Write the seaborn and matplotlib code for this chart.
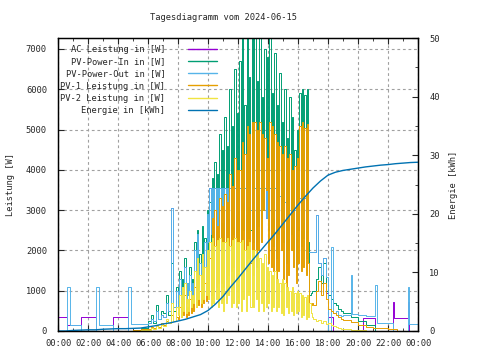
import numpy as np
import pandas as pd
import matplotlib
matplotlib.use('Agg')
import matplotlib.pyplot as plt
import seaborn as sns
from matplotlib.ticker import MultipleLocator

# Tagesdaten 2024-06-15 (Zeit in Stunden)
# Morgens 06:00-08:00 und abends 17:00-19:00: 10-Minuten-Werte
# Kernzeit 08:00-17:00: 5-Minuten-Werte
morning_t = 6 + np.arange(12) / 6
core_t = 8 + np.arange(108) / 12
late_t = 17 + np.arange(12) / 6

# PV-Power-In [W]
pv_in_night_t = [0, 5.0, 5.5]
pv_in_night_v = [0, 30, 80]
pv_in_morning_v = [
    250, 400, 200, 650, 300, 500,
    450, 900, 400, 1700, 500, 1100,
]
pv_in_core_v = [
    600, 1500, 700, 1300, 800, 1800, 700, 1200, 900, 1600, 800, 1300,
    1000, 2200, 900, 2500, 1100, 1900, 1000, 2600, 1200, 2300, 1300, 3000,
    1300, 3200, 1500, 3800, 1600, 4200, 1800, 3900, 2000, 4900, 1900, 4500,
    2000, 5300, 1800, 4600, 2200, 6000, 2000, 5100, 2400, 6500, 1900, 5400,
    2200, 6700, 2100, 7400, 2500, 5600, 1500, 7400, 2300, 6300, 2500, 7400,
    2200, 7400, 1600, 6200, 2600, 7400, 2800, 5800, 3000, 7000, 4000, 6800,
    2500, 7400, 2300, 5900, 2100, 6900, 1800, 5600, 2400, 6400, 2600, 5200,
    2200, 6000, 1700, 4800, 2000, 5800, 2400, 5300, 2000, 4500, 1500, 5000,
    2500, 5900, 2100, 6000, 2300, 5850, 1800, 6000, 2200, 900, 950, 1000,
]
pv_in_late_v = [
    1000, 1300, 1600, 1200, 1700, 1000,
    900, 800, 700, 650, 550, 500,
]
pv_in_eve_t = [19, 19.5, 20, 20.5, 21.1, 24]
pv_in_eve_v = [450, 350, 250, 150, 0, 0]

# PV-Power-Out [W]
pv_out_night_t = [0, 0.6, 0.8, 1.55, 2.53, 2.73, 3.67, 4.67, 4.87]
pv_out_night_v = [0, 1100, 150, 0, 1100, 150, 0, 1100, 170]
pv_out_morning_v = [
    200, 300, 250, 500, 300, 400,
    350, 700, 500, 3050, 600, 1000,
]
pv_out_core_v = [
    600, 1300, 700, 1100, 800, 1600, 700, 1200, 900, 1400, 800, 1200,
    900, 2000, 1000, 2400, 1100, 1700, 1000, 1900, 1300, 2200, 1400, 2900,
    2200, 3550, 2400, 3550, 2600, 3550, 2500, 3550, 2400, 3550, 2700, 3550,
    2700, 3550, 3000, 3550, 2800, 3550, 3000, 3550, 2600, 3550, 2900, 3550,
    3000, 3550, 2800, 3550, 3200, 3550, 2900, 3550, 3100, 3550, 3000, 3550,
    2900, 3550, 3100, 3550, 3400, 3550, 3000, 3550, 3300, 3550, 2800, 3550,
    2600, 3550, 2400, 3550, 2800, 3550, 2500, 3300, 2800, 3350, 2600, 3200,
    2500, 3200, 2700, 3100, 2300, 3000, 2600, 3100, 2400, 3000, 2300, 3200,
    2600, 3300, 2500, 3400, 2700, 3300, 2500, 3300, 1960, 1960, 1960, 1960,
]
pv_out_late_v = [
    1960, 2880, 1700, 1400, 1800, 1350,
    0, 2080, 450, 500, 400, 380,
]
pv_out_eve_t = [19, 19.5, 19.6, 20.0, 20.5, 21.1, 21.25, 22.3, 23.3, 23.4, 24]
pv_out_eve_v = [400, 1390, 420, 400, 380, 1140, 200, 0, 1100, 170, 170]

# AC Leistung [W] (tagsueber praktisch gleich PV-Power-Out)
ac_night_t = [0, 0.6, 1.5, 2.55, 3.67, 4.67]
ac_night_v = [350, 160, 350, 0, 350, 0]
ac_morning_v = pv_out_morning_v
ac_core_v = pv_out_core_v
ac_late_v = [
    1960, 2880, 1700, 1400, 1800, 940,
    350, 350, 0, 0, 0, 0,
]
ac_eve_t = [19, 20.3, 21.1, 22.3, 22.37, 23.3, 23.37, 24]
ac_eve_v = [0, 330, 0, 720, 330, 720, 0, 0]

# PV-1 Leistung [W]
pv1_night_t = [0, 5.0, 5.5]
pv1_night_v = [0, 20, 40]
pv1_morning_v = [
    50, 100, 80, 150, 100, 200,
    150, 250, 200, 400, 250, 350,
]
pv1_core_v = [
    300, 600, 350, 500, 400, 900, 350, 600, 400, 800, 450, 700,
    500, 1100, 600, 1300, 650, 1000, 600, 1400, 700, 1200, 750, 1600,
    800, 1800, 900, 2800, 1000, 3000, 1100, 2600, 1200, 3300, 1200, 3100,
    1100, 3400, 1300, 3200, 1400, 3900, 1500, 3600, 1600, 4300, 1300, 4000,
    1500, 4000, 1600, 4700, 1300, 4400, 1500, 5100, 1800, 4900, 1700, 5200,
    1400, 5200, 1900, 5000, 2000, 5200, 2200, 4900, 3000, 4800, 3500, 4300,
    1700, 5200, 1600, 5100, 1500, 4900, 1200, 4700, 1500, 4600, 2000, 4400,
    1300, 4600, 1100, 4300, 1400, 4400, 2000, 4000, 1600, 4100, 1200, 4300,
    1700, 5100, 1500, 5200, 1600, 5050, 1400, 5150, 1700, 700, 650, 700,
]
pv1_late_v = [
    650, 1000, 1250, 900, 1200, 800,
    550, 500, 450, 400, 350, 300,
]
pv1_eve_t = [19, 19.5, 20, 20.5, 21, 22, 22.6, 24]
pv1_eve_v = [280, 220, 160, 100, 70, 50, 0, 0]

# PV-2 Leistung [W]
pv2_night_t = [0, 5.5]
pv2_night_v = [0, 20]
pv2_morning_v = [
    30, 80, 50, 120, 80, 150,
    120, 300, 200, 700, 250, 600,
]
pv2_core_v = [
    400, 900, 350, 1100, 500, 1200, 450, 800, 500, 1000, 600, 900,
    700, 1500, 600, 1800, 800, 1400, 700, 1900, 800, 1600, 900, 2000,
    800, 2200, 600, 2300, 700, 2100, 800, 2250, 600, 2300, 700, 2200,
    500, 2200, 700, 2300, 900, 2100, 600, 2250, 700, 2300, 600, 2200,
    700, 2200, 500, 2250, 800, 2000, 500, 2100, 900, 2200, 600, 2000,
    600, 2000, 800, 1900, 500, 1800, 700, 1700, 500, 1900, 600, 1600,
    700, 1500, 500, 1400, 600, 1500, 500, 1300, 600, 1200, 450, 1300,
    400, 1200, 600, 1100, 450, 1000, 500, 1100, 400, 950, 450, 1000,
    500, 950, 350, 900, 400, 850, 300, 900, 350, 700, 450, 350,
]
pv2_late_v = [
    300, 250, 280, 200, 260, 180,
    200, 150, 120, 100, 80, 60,
]
pv2_eve_t = [19, 19.5, 20, 20.5, 24]
pv2_eve_v = [50, 30, 20, 0, 0]

# Energie [kWh], halbstuendlich
energie_t = np.arange(49) / 2
energie_v = [
    0.0, 0.0, 0.1, 0.15, 0.2, 0.2, 0.3, 0.35, 0.4, 0.4, 0.45, 0.5,
    0.7, 0.9, 1.2, 1.4, 1.7, 2.0, 2.4, 2.8, 3.5, 4.6, 5.9, 7.5,
    9.0, 10.6, 12.2, 13.7, 15.2, 16.7, 18.3, 19.9, 21.5, 23.0, 24.4, 25.6,
    26.6, 27.1, 27.4, 27.6, 27.8, 28.0, 28.15, 28.3, 28.4, 28.55, 28.65, 28.75,
    28.8,
]

hour_labels = ['00:00', '02:00', '04:00', '06:00', '08:00', '10:00', '12:00',
               '14:00', '16:00', '18:00', '20:00', '22:00', '00:00']


def build(night_t, night_v, morning_v, core_v, late_v, eve_t, eve_v):
    t = list(night_t) + list(morning_t) + list(core_t) + list(late_t) + list(eve_t)
    v = list(night_v) + list(morning_v) + list(core_v) + list(late_v) + list(eve_v)
    return pd.DataFrame({'t': t, 'v': v})


series = [
    ('AC Leistung in [W]', '#9400d3',
     build(ac_night_t, ac_night_v, ac_morning_v, ac_core_v, ac_late_v, ac_eve_t, ac_eve_v)),
    ('PV-Power-In in [W]', '#009e73',
     build(pv_in_night_t, pv_in_night_v, pv_in_morning_v, pv_in_core_v, pv_in_late_v, pv_in_eve_t, pv_in_eve_v)),
    ('PV-Power-Out in [W]', '#56b4e9',
     build(pv_out_night_t, pv_out_night_v, pv_out_morning_v, pv_out_core_v, pv_out_late_v, pv_out_eve_t, pv_out_eve_v)),
    ('PV-1 Leistung in [W]', '#e69f00',
     build(pv1_night_t, pv1_night_v, pv1_morning_v, pv1_core_v, pv1_late_v, pv1_eve_t, pv1_eve_v)),
    ('PV-2 Leistung in [W]', '#f0e442',
     build(pv2_night_t, pv2_night_v, pv2_morning_v, pv2_core_v, pv2_late_v, pv2_eve_t, pv2_eve_v)),
]

sns.set_style('ticks')
plt.rcParams['font.family'] = ['DejaVu Sans Mono']
fs = 6.3

fig = plt.figure(figsize=(4.8, 3.6), dpi=100)
ax = fig.add_axes([58 / 480, 29 / 360, 360 / 480, 293 / 360])

for name, col, df in series:
    sns.lineplot(data=df, x='t', y='v', ax=ax, color=col, lw=0.7,
                 drawstyle='steps-post', label=name, estimator=None, sort=False)

ax2 = ax.twinx()
sns.lineplot(x=energie_t, y=energie_v, ax=ax2, color='#0072b2', lw=1.0,
             label='Energie in [kWh]', estimator=None, sort=False)

ax.set_xlim(0, 24)
ax.set_ylim(0, 7273)
ax2.set_ylim(0, 50)
ax.set_xticks(range(0, 25, 2))
ax.set_xticklabels(hour_labels)
ax.xaxis.set_minor_locator(MultipleLocator(1))
ax.set_yticks(range(0, 8000, 1000))
ax2.set_yticks(range(0, 60, 10))
ax2.yaxis.set_minor_locator(MultipleLocator(5))

ax.grid(True, which='major', color='#a0a0a0', ls=(0, (2.5, 2.5)), lw=0.8)
ax.set_axisbelow(True)

ax.tick_params(axis='x', which='both', direction='in', top=True, labelsize=fs, pad=6)
ax.tick_params(axis='x', which='major', length=4)
ax.tick_params(axis='x', which='minor', length=2.5)
ax.tick_params(axis='y', which='both', direction='in', right=False, labelsize=fs, pad=8, length=4)
ax2.tick_params(axis='y', which='both', direction='in', labelsize=fs, pad=8)
ax2.tick_params(axis='y', which='major', length=4)
ax2.tick_params(axis='y', which='minor', length=2.5)

for a in (ax, ax2):
    for s in a.spines.values():
        s.set_color('black')
        s.set_linewidth(0.9)

ax.set_xlabel('')
ax.set_ylabel('Leistung [W]', fontsize=fs)
ax.yaxis.set_label_coords(-0.12, 0.5)
ax2.set_ylabel('Energie [kWh]', fontsize=fs)
ax2.yaxis.set_label_coords(1.086, 0.5)

h1, l1 = ax.get_legend_handles_labels()
h2, l2 = ax2.get_legend_handles_labels()
if ax.get_legend() is not None:
    ax.get_legend().remove()
leg = ax2.legend(h1 + h2, l1 + l2, loc='upper right', bbox_to_anchor=(0.4417, 0.975),
                 frameon=False, markerfirst=False, fontsize=fs, handlelength=3.3,
                 handletextpad=2.6, labelspacing=0.35, borderpad=0, borderaxespad=0)
for line in leg.get_lines():
    line.set_linewidth(1.0)

fig.text(223 / 480, 1 - 18 / 360, 'Tagesdiagramm vom 2024-06-15',
         ha='center', va='center', fontsize=fs)

fig.savefig('out.png', dpi=100)
